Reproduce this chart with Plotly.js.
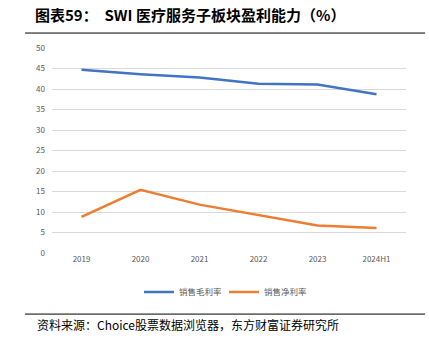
<!DOCTYPE html>
<html><head><meta charset="utf-8">
<script src="https://cdn.plot.ly/plotly-3.0.1.min.js"></script>
<style>html,body{margin:0;padding:0;background:#fff;}#chart{width:429px;height:342px;}</style>
</head><body><div id="chart"></div>
<script>
const categories = ['2019','2020','2021','2022','2023','2024H1'];
const grossMargin = [44.7, 43.6, 42.8, 41.3, 41.1, 38.7];
const netMargin = [8.8, 15.4, 11.8, 9.3, 6.7, 6.1];
const seriesNames = ['销售毛利率','销售净利率'];

const traces = [
  {x: categories, y: grossMargin, name: seriesNames[0], type: 'scatter', mode: 'lines',
   line: {color: '#4472C4', width: 2.5}},
  {x: categories, y: netMargin, name: seriesNames[1], type: 'scatter', mode: 'lines',
   line: {color: '#ED7D31', width: 2.5}}
];
const layout = {
  width: 429, height: 342,
  margin: {l: 52, r: 23, t: 48, b: 89},
  paper_bgcolor: '#fff', plot_bgcolor: '#fff',
  font: {family: '"Noto Sans CJK SC", "DejaVu Sans", sans-serif', color: '#595959'},
  title: {text: '<b>图表59：  SWI 医疗服务子板块盈利能力（%）</b>', font: {size: 15, color: '#000', family: '"Noto Sans CJK SC", sans-serif'},
    x: 35/429, xanchor: 'left', xref: 'container', y: 1 - 16/342, yanchor: 'middle', yref: 'container'},
  xaxis: {type: 'category', range: [-0.5, 5.5], showgrid: false, zeroline: false, showline: false, ticks: '',
    tickfont: {size: 8, color: '#595959'}, fixedrange: true},
  yaxis: {range: [0, 50], dtick: 5, showgrid: true, gridcolor: '#d9d9d9', gridwidth: 1, zeroline: false,
    showline: false, ticks: '', tickfont: {size: 8, color: '#595959'}, ticklabelstandoff: 6},
  showlegend: true,
  legend: {orientation: 'h', x: (224-52)/354, xanchor: 'center', y: -0.19, yanchor: 'middle',
    font: {size: 8.5, color: '#595959'}, itemwidth: 30, entrywidth: 40, entrywidthmode: 'pixels', tracegroupgap: 0},
  shapes: [
    {type: 'line', xref: 'paper', yref: 'paper', x0: -0.076, x1: 1.054, y0: 1.073, y1: 1.073, line: {color: '#000', width: 1}},
    {type: 'line', xref: 'paper', yref: 'paper', x0: -0.076, x1: 1.054, y0: -0.298, y1: -0.298, line: {color: '#000', width: 1}}
  ],
  annotations: [
    {text: '资料来源：Choice股票数据浏览器，东方财富证券研究所', xref: 'paper', yref: 'paper', x: -0.048, y: -0.351,
     xanchor: 'left', yanchor: 'middle', showarrow: false, font: {size: 12, color: '#000', family: '"Noto Sans CJK SC", sans-serif'}}
  ]
};
Plotly.newPlot('chart', traces, layout, {displayModeBar: false, staticPlot: true});
</script></body></html>
